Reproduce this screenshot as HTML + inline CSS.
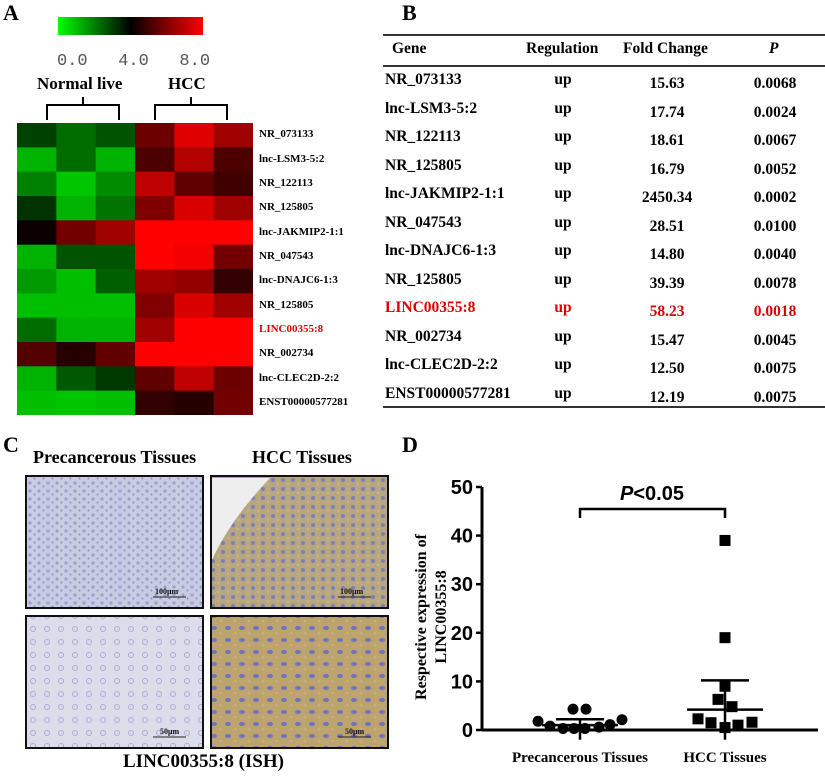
<!DOCTYPE html>
<html><head><meta charset="utf-8"><style>
body{margin:0;width:825px;height:779px;background:#fff;position:relative;overflow:hidden;font-family:"Liberation Serif",serif;}
.a{position:absolute;white-space:nowrap;}
.b{font-weight:bold;}
.pl{font-size:22px;font-weight:bold;}
.hl{font-size:11px;font-weight:bold;left:259px;}
.tr{font-size:15.5px;font-weight:bold;}
</style></head><body>
<div class="a pl" style="left:3px;top:0px;">A</div>
<div class="a pl" style="left:402px;top:0px;">B</div>
<div class="a pl" style="left:3px;top:432px;">C</div>
<div class="a pl" style="left:402px;top:432px;">D</div>

<div class="a" style="left:58px;top:17px;width:145px;height:18px;background:linear-gradient(90deg,#00ff00,#000 50%,#ff0000);"></div>
<div class="a" style="left:57px;top:52px;font-family:'Liberation Mono',monospace;font-size:17px;color:#555;">0.0&nbsp;&nbsp;&nbsp;4.0&nbsp;&nbsp;&nbsp;8.0</div>
<div class="a b" style="left:37px;top:74px;font-size:17px;">Normal live</div>
<div class="a b" style="left:168px;top:74px;font-size:17px;">HCC</div>
<svg class="a" style="left:0;top:0" width="260" height="125">
<path d="M47,120V105H119V120M83,105V97M155,120V105H227V120M191,105V97" fill="none" stroke="#000" stroke-width="2"/>
</svg>
<svg class="a" id="hm" style="left:17px;top:123px" width="236" height="292"></svg>
<div id="hml"></div>

<div class="a" style="left:383px;top:34px;width:442px;height:2px;background:#333"></div>
<div class="a" style="left:383px;top:65px;width:442px;height:2px;background:#333"></div>
<div class="a" style="left:383px;top:406px;width:442px;height:2px;background:#333"></div>
<div class="a tr" style="left:392px;top:40px">Gene</div>
<div class="a tr" style="left:526px;top:40px">Regulation</div>
<div class="a tr" style="left:623px;top:40px">Fold Change</div>
<div class="a tr" style="left:769px;top:40px;font-style:italic">P</div>
<div id="tbl"></div>

<div class="a b" style="left:33px;top:447px;font-size:18px">Precancerous Tissues</div>
<div class="a b" style="left:252px;top:447px;font-size:18px">HCC Tissues</div>
<div class="a b" style="left:123px;top:751px;font-size:19px">LINC00355:8 (ISH)</div>
<svg class="a" style="left:0;top:0" width="400" height="779">
<defs>
<pattern id="p1" width="9" height="8" patternUnits="userSpaceOnUse"><rect width="9" height="8" fill="#c9cbe2"/><circle cx="3" cy="3" r="1.6" fill="#9aa0d0"/><circle cx="7.5" cy="6.5" r="1" fill="#8890c8"/></pattern>
<pattern id="p2" width="10" height="9" patternUnits="userSpaceOnUse"><rect width="10" height="9" fill="#b8a680"/><circle cx="3" cy="3" r="2" fill="#7b7fb8"/><circle cx="8" cy="7" r="1.4" fill="#c4b283"/></pattern>
<pattern id="p3" width="14" height="13" patternUnits="userSpaceOnUse"><rect width="14" height="13" fill="#dcdcea"/><circle cx="5" cy="5" r="2.5" fill="none" stroke="#a9aed6"/></pattern>
<pattern id="p4" width="14" height="12" patternUnits="userSpaceOnUse"><rect width="14" height="12" fill="#bda46e"/><ellipse cx="4" cy="4" rx="3" ry="2" fill="#6f72c0"/><circle cx="11" cy="9" r="1.5" fill="#c8b07a"/></pattern>
</defs>
<rect x="26" y="476" width="177" height="132" fill="url(#p1)" stroke="#111" stroke-width="2"/>
<rect x="211" y="476" width="177" height="132" fill="url(#p2)" stroke="#111" stroke-width="2"/>
<path d="M212,560 Q230,520 270,478 L212,478Z" fill="#eeeeee"/>
<rect x="26" y="616" width="177" height="132" fill="url(#p3)" stroke="#111" stroke-width="2"/>
<rect x="211" y="616" width="177" height="132" fill="url(#p4)" stroke="#111" stroke-width="2"/>
<g stroke="#222" stroke-width="1"><path d="M153,597h33M338,597h33M153,737h33M338,737h33"/></g>
<g font-size="8" font-weight="bold" font-family="Liberation Serif,serif" fill="#111">
<text x="155" y="594">100μm</text><text x="340" y="594">100μm</text><text x="160" y="734">50μm</text><text x="345" y="734">50μm</text></g>
</svg>

<svg class="a" id="sc" style="left:400px;top:470px" width="425" height="309"></svg>

<script>
// Heatmap data (expression scale 0..8; 4 = black)
const hmRows=["NR_073133","lnc-LSM3-5:2","NR_122113","NR_125805","lnc-JAKMIP2-1:1","NR_047543","lnc-DNAJC6-1:3","NR_125805","LINC00355:8","NR_002734","lnc-CLEC2D-2:2","ENST00000577281"];
const hmValues=[
[3.0,2.3,2.7,5.7,7.5,6.5],
[1.2,2.3,1.2,5.2,6.8,5.2],
[2.0,0.9,1.8,7.0,5.5,5.0],
[3.2,1.2,2.2,6.0,7.4,6.5],
[4.2,5.8,6.5,8.0,8.0,8.0],
[1.2,2.7,2.7,8.0,7.8,5.8],
[1.6,1.0,2.5,6.5,6.3,4.8],
[1.0,1.0,1.0,6.0,7.4,6.5],
[2.3,1.2,1.2,6.5,8.0,8.0],
[5.3,4.6,5.5,8.0,8.0,8.0],
[1.2,2.6,3.1,5.5,7.0,5.7],
[1.0,0.9,1.0,4.8,4.6,5.8]];
const NS="http://www.w3.org/2000/svg";
const hm=document.getElementById('hm');
const cw=236/6, ch=292/12;
function col(v){const t=(v-4)/4;const c=Math.round(Math.min(1,Math.abs(t))*255);return t<0?`rgb(0,${c},0)`:`rgb(${c},0,0)`;}
hmValues.forEach((row,i)=>row.forEach((v,j)=>{
 const r=document.createElementNS(NS,'rect');
 r.setAttribute('x',j*cw);r.setAttribute('y',i*ch);r.setAttribute('width',cw+0.5);r.setAttribute('height',ch+0.5);
 r.setAttribute('fill',col(v));
 
 
 hm.appendChild(r);
}));
const hml=document.getElementById('hml');
hmRows.forEach((n,i)=>{
 const d=document.createElement('div');d.className='a hl';d.textContent=n;
 d.style.top=(123+i*ch+ch/2-7)+'px';
 if(n==="LINC00355:8")d.style.color='#d00';
 
 
 hml.appendChild(d);
});
// Table
const tGenes=["NR_073133","lnc-LSM3-5:2","NR_122113","NR_125805","lnc-JAKMIP2-1:1","NR_047543","lnc-DNAJC6-1:3","NR_125805","LINC00355:8","NR_002734","lnc-CLEC2D-2:2","ENST00000577281"];
const tFold=["15.63","17.74","18.61","16.79","2450.34","28.51","14.80","39.39","58.23","15.47","12.50","12.19"];
const tP=["0.0068","0.0024","0.0067","0.0052","0.0002","0.0100","0.0040","0.0078","0.0018","0.0045","0.0075","0.0075"];
const tbl=document.getElementById('tbl');
tGenes.forEach((g,i)=>{
 const y=81+i*28.5; const red=g==="LINC00355:8";
 [[g,385,y,'left'],["up",563,y,'c'],[tFold[i],667,y+4,'c'],[tP[i],775,y+4,'c']].forEach(([t,x,yy,al],k)=>{
  const d=document.createElement('div');d.className='a tr';d.textContent=t;
  d.style.top=(yy-10)+'px';
  if(al==='c'){d.style.left=(x-60)+'px';d.style.width='120px';d.style.textAlign='center';}else d.style.left=x+'px';
  if(red)d.style.color='#d00';
  
  
  tbl.appendChild(d);
 });
});
// Scatter
const groups=["Precancerous Tissues","HCC Tissues"];
const preVals=[1.8,0.8,0.3,4.3,0.3,4.3,0.3,0.6,1.1,2.1];
const preOff=[-42,-30,-17,-7,-6,6,5,19,30,42];
const hccVals=[39,19,9,6.3,4.8,2.3,1.5,0.5,1.0,1.6];
const hccOff=[0,0,0,-7,7,-27,-14,0,13,27];
const means=[1.0,4.2], upper=[2.2,10.2], lower=[-2,-2];
const yTicks=[0,10,20,30,40,50];
const sc=document.getElementById('sc');
const X0=82, Y0=260, PX=4.86;
const ys=v=>Y0-v*PX; const gx=[180,325];
function el(t,a,name){const e=document.createElementNS(NS,t);for(const k in a)e.setAttribute(k,a[k]);
 
 
 sc.appendChild(e);return e;}
el('line',{x1:X0,y1:ys(50),x2:X0,y2:Y0+1,stroke:'#000','stroke-width':3},'y-axis');
el('line',{x1:X0,y1:Y0,x2:418,y2:Y0,stroke:'#000','stroke-width':3},'x-axis');
yTicks.forEach(t=>{el('line',{x1:X0-6,y1:ys(t),x2:X0,y2:ys(t),stroke:'#000','stroke-width':2.5},'y-tick');
 const tx=el('text',{x:X0-9,y:ys(t)+7,'text-anchor':'end','font-size':20,'font-weight':'bold','font-family':'Liberation Sans,sans-serif'},'y-tick-label');tx.textContent=t;});
groups.forEach((g,i)=>{const tx=el('text',{x:gx[i],y:292,'text-anchor':'middle','font-size':15,'font-weight':'bold','font-family':'Liberation Serif,serif'},'x-tick-label');tx.textContent=g;});
const yt=el('text',{transform:'translate(28,147) rotate(-90)','text-anchor':'middle','font-size':16,'font-weight':'bold','font-family':'Liberation Serif,serif'},'y-axis-title');
yt.innerHTML='<tspan x="0" dy="-2">Respective expression of</tspan><tspan x="0" dy="20">LINC00355:8</tspan>';
preVals.forEach((v,i)=>el('circle',{cx:gx[0]+preOff[i],cy:ys(v),r:5.5,fill:'#000'},'point-precancerous'));
hccVals.forEach((v,i)=>el('rect',{x:gx[1]+hccOff[i]-5.5,y:ys(v)-5.5,width:11,height:11,fill:'#000'},'point-hcc'));
[0,1].forEach(i=>{
 el('line',{x1:gx[i]-38,y1:ys(means[i]),x2:gx[i]+38,y2:ys(means[i]),stroke:'#000','stroke-width':2.5},'mean-line');
 el('line',{x1:gx[i]-24,y1:ys(upper[i]),x2:gx[i]+24,y2:ys(upper[i]),stroke:'#000','stroke-width':2.5},'error-cap');
 el('line',{x1:gx[i],y1:ys(upper[i]),x2:gx[i],y2:ys(lower[i]),stroke:'#000','stroke-width':2.5},'error-bar');
});
el('path',{d:`M${gx[0]},48V39H${gx[1]}V48`,fill:'none',stroke:'#000','stroke-width':2.5},'significance-bracket');
const pt=el('text',{x:252,y:30,'text-anchor':'middle','font-size':20,'font-weight':'bold','font-family':'Liberation Sans,sans-serif'},'p-value-label');
pt.innerHTML='<tspan font-style="italic">P</tspan>&lt;0.05';
</script>
</body></html>
